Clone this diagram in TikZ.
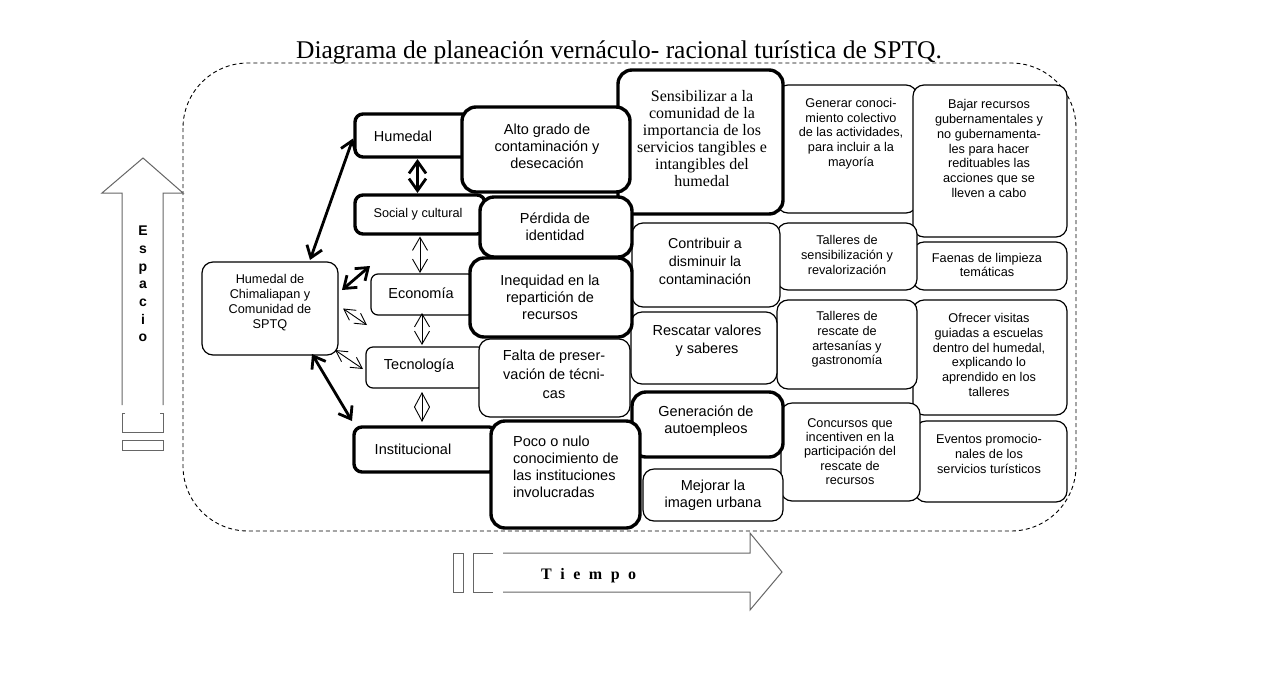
\documentclass[tikz,border=0pt]{standalone}
\usepackage{fontspec}
\setmainfont{Liberation Sans}
\newfontfamily\seriffont{Liberation Serif}
\usetikzlibrary{arrows.meta,calc}
\tikzset{
  thinbox/.style={draw, line width=1.2pt, rounded corners=11pt, fill=white, anchor=north west, inner sep=0pt, outer sep=0pt},
  thickbox/.style={thinbox, line width=3.4pt, rounded corners=14pt},
  catthin/.style={thinbox, rounded corners=7pt},
  catthick/.style={thickbox, rounded corners=8pt},
  txt/.style={align=center, inner sep=0pt, font=\fontsize{14.5}{17}\selectfont},
  smalltxt/.style={align=center, inner sep=0pt, font=\fontsize{12.7}{14.7}\selectfont},
  thickarr/.style={line width=2.8pt, {Straight Barb[length=11pt,width=16pt]}-{Straight Barb[length=11pt,width=16pt]}},
  vthick/.style={line width=2.8pt, {Straight Barb[length=12pt,width=17pt]}-{Straight Barb[length=12pt,width=17pt]}},
  vthin/.style={line width=0.9pt, {Straight Barb[length=13pt,width=15pt]}-{Straight Barb[length=13pt,width=15pt]}},
  dthin/.style={line width=0.9pt, {Straight Barb[length=11pt,width=12pt]}-{Straight Barb[length=11pt,width=12pt]}},
  diam/.style={line width=0.9pt, {Straight Barb[length=14pt,width=15pt]}-{Straight Barb[length=14pt,width=15pt]}},
  dashframe/.style={draw, dash pattern=on 4pt off 3pt, line width=0.9pt},
  blockarrow/.style={draw=black!60, line width=1pt, line join=miter}
}
\begin{document}
\begin{tikzpicture}[x=1pt,y=-1pt]
\useasboundingbox (0,0) rectangle (1274,697);
\fill[white] (0,0) rectangle (1274,697);

% title
\node[font=\seriffont\fontsize{25.5}{30}\selectfont, anchor=base, inner sep=0pt] (title) at (619,58) {Diagrama de planeación vernáculo- racional turística de SPTQ.};

% dashed frame
\draw[dashframe, rounded corners=65pt] (183,63) rectangle (1076,531);

% Espacio block arrow
\draw[blockarrow] (122,405) -- (122,193) -- (102,193) -- (143,158) -- (183,193) -- (163,193) -- (163,405);
\draw[blockarrow] (125,413) -- (122,413) -- (122,432) -- (163,432) -- (163,413) -- (160,413);
\draw[blockarrow] (122,440) rectangle (163,450);
\node[font=\bfseries\fontsize{14}{17.7}\selectfont, align=center, inner sep=0pt] (esp) at (143,284) {E\\s\\p\\a\\c\\i\\o};

% Tiempo block arrow
\draw[blockarrow] (503,553) -- (750,553) -- (750,533) -- (782,572) -- (750,610) -- (750,592) -- (503,592);
\draw[blockarrow] (493,553) -- (473,553) -- (473,592) -- (493,592);
\draw[blockarrow] (453,553) rectangle (463,592);
\node[font=\seriffont\bfseries\fontsize{16}{18}\selectfont, anchor=base west, inner sep=0pt] (tiem) at (541,579) {T\hspace{8.5pt}i\hspace{8.5pt}e\hspace{8.5pt}m\hspace{8.5pt}p\hspace{8.5pt}o};

% category boxes
\node[catthick, minimum width=115, minimum height=43] (hum) at (355,114) {};
\node[catthick, minimum width=130, minimum height=39] (soc) at (355,195) {};
\node[catthin, minimum width=104, minimum height=41] (eco) at (371,274) {};
\node[catthin, minimum width=119, minimum height=41] (tec) at (366,347) {};
\node[catthick, minimum width=143, minimum height=45] (ins) at (354,427) {};
\node[thinbox, minimum width=136, minimum height=93] (cen) at (202,262) {};

% columns 4 and 5
\node[thinbox, minimum width=140, minimum height=128] (gcon) at (777,85) {};
\node[thinbox, minimum width=154, minimum height=152] (bajar) at (913,85) {};
\node[thinbox, minimum width=154, minimum height=48] (faen) at (913,242) {};
\node[thinbox, minimum width=140, minimum height=67] (tsen) at (777,223) {};
\node[thinbox, minimum width=154, minimum height=115] (ofre) at (913,300) {};
\node[thinbox, minimum width=140, minimum height=89] (tres) at (777,300) {};
\node[thinbox, minimum width=152, minimum height=81] (even) at (915,421) {};
\node[thinbox, minimum width=139, minimum height=98] (conc) at (781,403) {};

% column 3
\node[thinbox, minimum width=148, minimum height=84] (contr) at (632,223) {};
\node[thinbox, minimum width=146, minimum height=72] (resc) at (631,312) {};
\node[thickbox, minimum width=151, minimum height=65] (gener) at (632,392) {};
\node[thinbox, minimum width=140, minimum height=52] (mejor) at (643,469) {};
\node[thickbox, minimum width=165, minimum height=144] (sens) at (618,70) {};

% column 2
\node[thickbox, minimum width=168, minimum height=85] (alto) at (462,107) {};
\node[thickbox, minimum width=152, minimum height=60] (perd) at (480,197) {};
\node[thinbox, minimum width=151, minimum height=78] (falta) at (479,339) {};
\node[thickbox, minimum width=162, minimum height=79] (ineq) at (470,258) {};
\node[thickbox, minimum width=149, minimum height=107] (poco) at (491,421) {};

% texts
\node[txt] (humt) at (403,136) {Humedal};
\node[smalltxt] (soct) at (418,214) {Social y cultural};
\node[txt] (ecot) at (421,293) {Economía};
\node[txt] (tect) at (419,366) {Tecnología};
\node[txt] (inst) at (413,449) {Institucional};
\node[smalltxt, font=\fontsize{12.7}{15}\selectfont] (cent) at (270,302.5) {Humedal de\\Chimaliapan y\\Comunidad de\\SPTQ};

\node[txt] (altot) at (547,146.5) {Alto grado de\\contaminación y\\desecación};
\node[txt] (perdt) at (555,226.5) {Pérdida de\\identidad};
\node[txt] (ineqt) at (550,297) {Inequidad en la\\repartición de\\recursos};
\node[txt, font=\fontsize{14.5}{19}\selectfont] (faltat) at (554,374) {Falta de preser-\\vación de técni-\\cas};
\node[txt, align=left, anchor=west] (pocot) at (513,466.5) {Poco o nulo\\conocimiento de\\las instituciones\\involucradas};

\node[align=center, inner sep=0pt, font=\seriffont\fontsize{16}{16.9}\selectfont] (senst) at (702,138.5) {Sensibilizar a la\\comunidad de la\\importancia de los\\servicios tangibles e\\intangibles del\\humedal};
\node[txt, font=\fontsize{14.3}{18}\selectfont] (contrt) at (705,261) {Contribuir a\\disminuir la\\contaminación};
\node[txt, font=\fontsize{14.5}{17.5}\selectfont] (resct) at (707,340.5) {Rescatar valores\\y saberes};
\node[txt] (genert) at (706,421) {Generación de\\autoempleos};
\node[txt] (mejort) at (713,495.5) {Mejorar la\\imagen urbana};

\node[smalltxt] (gcont) at (851,133.5) {Generar conoci-\\miento colectivo\\de las actividades,\\para incluir a la\\mayoría};
\node[smalltxt] (tsent) at (847,255) {Talleres de\\sensibilización y\\revalorización};
\node[smalltxt] (trest) at (847,339.5) {Talleres de\\rescate de\\artesanías y\\gastronomía};
\node[smalltxt, font=\fontsize{12.7}{14.3}\selectfont] (conct) at (850,451.5) {Concursos que\\incentiven en la\\participación del\\rescate de\\recursos};
\node[smalltxt] (bajart) at (989,148.5) {Bajar recursos\\gubernamentales y\\no gubernamenta-\\les para hacer\\redituables las\\acciones que se\\lleven a cabo};
\node[smalltxt] (faent) at (987,265) {Faenas de limpieza\\temáticas};
\node[smalltxt] (ofret) at (989,355) {Ofrecer visitas\\guiadas a escuelas\\dentro del humedal,\\explicando lo\\aprendido en los\\talleres};
\node[smalltxt] (event) at (989,454) {Eventos promocio-\\nales de los\\servicios turísticos};

% connectors
\draw[thickarr] ($(hum.west)+(-2,3)$) -- ($(cen.north)+(40,-2)$);
\draw[vthick] ($(hum.south)+(5,2)$) -- ($(soc.north)+(-2.5,-2)$);
\draw[vthin] ($(soc.south)+(0,2.5)$) -- ($(eco.north)+(-3,-1)$);
\draw[vthin] ($(eco.south)+(-1,-2)$) -- ($(tec.north)+(-3.5,-2)$);
\draw[diam] ($(tec.south)+(-3.5,4)$) -- ($(ins.north)+(-3.5,-5)$);
\draw[thickarr] ($(cen.east)+(4,-18.5)$) -- ($(eco.north west)+(-1,-8)$);
\draw[dthin] ($(cen.east)+(5,0)$) -- ($(eco.south west)+(-4,10)$);
\draw[dthin] ($(cen.south east)+(-3,-5)$) -- ($(tec.west)+(-3,1.5)$);
\draw[thickarr] ($(cen.south east)+(-26,-1)$) -- ($(ins.north west)+(-2,-6)$);
\end{tikzpicture}
\end{document}
